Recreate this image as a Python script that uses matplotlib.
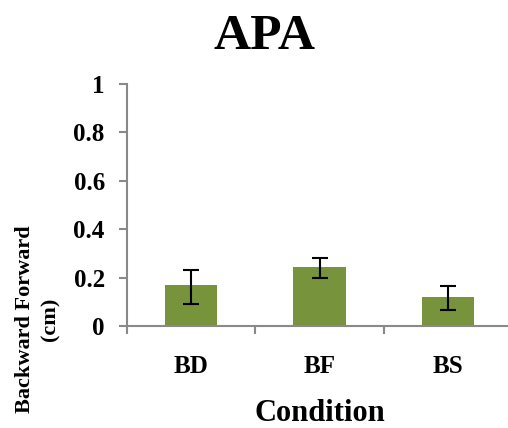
import matplotlib
matplotlib.use("Agg")
import matplotlib.pyplot as plt
import numpy as np

categories = ["BD", "BF", "BS"]
means = [0.169, 0.244, 0.120]
err_low = [0.078, 0.046, 0.054]
err_high = [0.062, 0.037, 0.045]
yticks = [0, 0.2, 0.4, 0.6, 0.8, 1]
yticklabels = ["0", "0.2", "0.4", "0.6", "0.8", "1"]

plt.rcParams['font.family'] = ['Liberation Serif', 'DejaVu Serif']
plt.rcParams['font.weight'] = 'bold'

fig = plt.figure(figsize=(5.08, 4.28), dpi=100)
ax = fig.add_axes([127/508, 1-326/428, 385/508, (326-84)/428])

x = np.arange(len(categories))
ax.bar(x, means, width=0.41, color='#77933C', zorder=2)
ax.errorbar(x, means, yerr=[err_low, err_high], fmt='none', ecolor='black',
            elinewidth=1.5, capsize=5.5, capthick=1.5, zorder=3)

ax.set_xlim(-0.5, 2.5)
ax.set_ylim(0, 1)
spine_c = '#898989'
for s in ['top', 'right']:
    ax.spines[s].set_visible(False)
for s in ['left', 'bottom']:
    ax.spines[s].set_color(spine_c)
    ax.spines[s].set_linewidth(1.5)

ax.set_yticks(yticks)
ax.set_yticklabels(yticklabels, fontsize=18, fontweight='bold')
ax.tick_params(axis='y', direction='out', length=6, width=1.5, color=spine_c, pad=10)

ax.set_xticks([-0.5, 0.5, 1.5, 2.5])
ax.set_xticklabels([])
ax.tick_params(axis='x', which='major', direction='out', length=5.5, width=1.5, color=spine_c)
ax.set_xticks(x, minor=True)
ax.set_xticklabels(categories, minor=True, fontsize=18, fontweight='bold')
ax.tick_params(axis='x', which='minor', length=0, pad=21)

fig.text(264/508, 1-49/428, "APA", fontsize=37, fontweight='bold', ha='center', va='baseline')
fig.text(319.5/508, 1-421/428, "Condition", fontsize=22, fontweight='bold', ha='center', va='baseline')
fig.text(38/508, 1-319/428, "Backward Forward\n(cm)", fontsize=16, fontweight='bold',
         ha='center', va='center', rotation=90, multialignment='center', linespacing=1.35)

fig.savefig("out.png", dpi=100)
